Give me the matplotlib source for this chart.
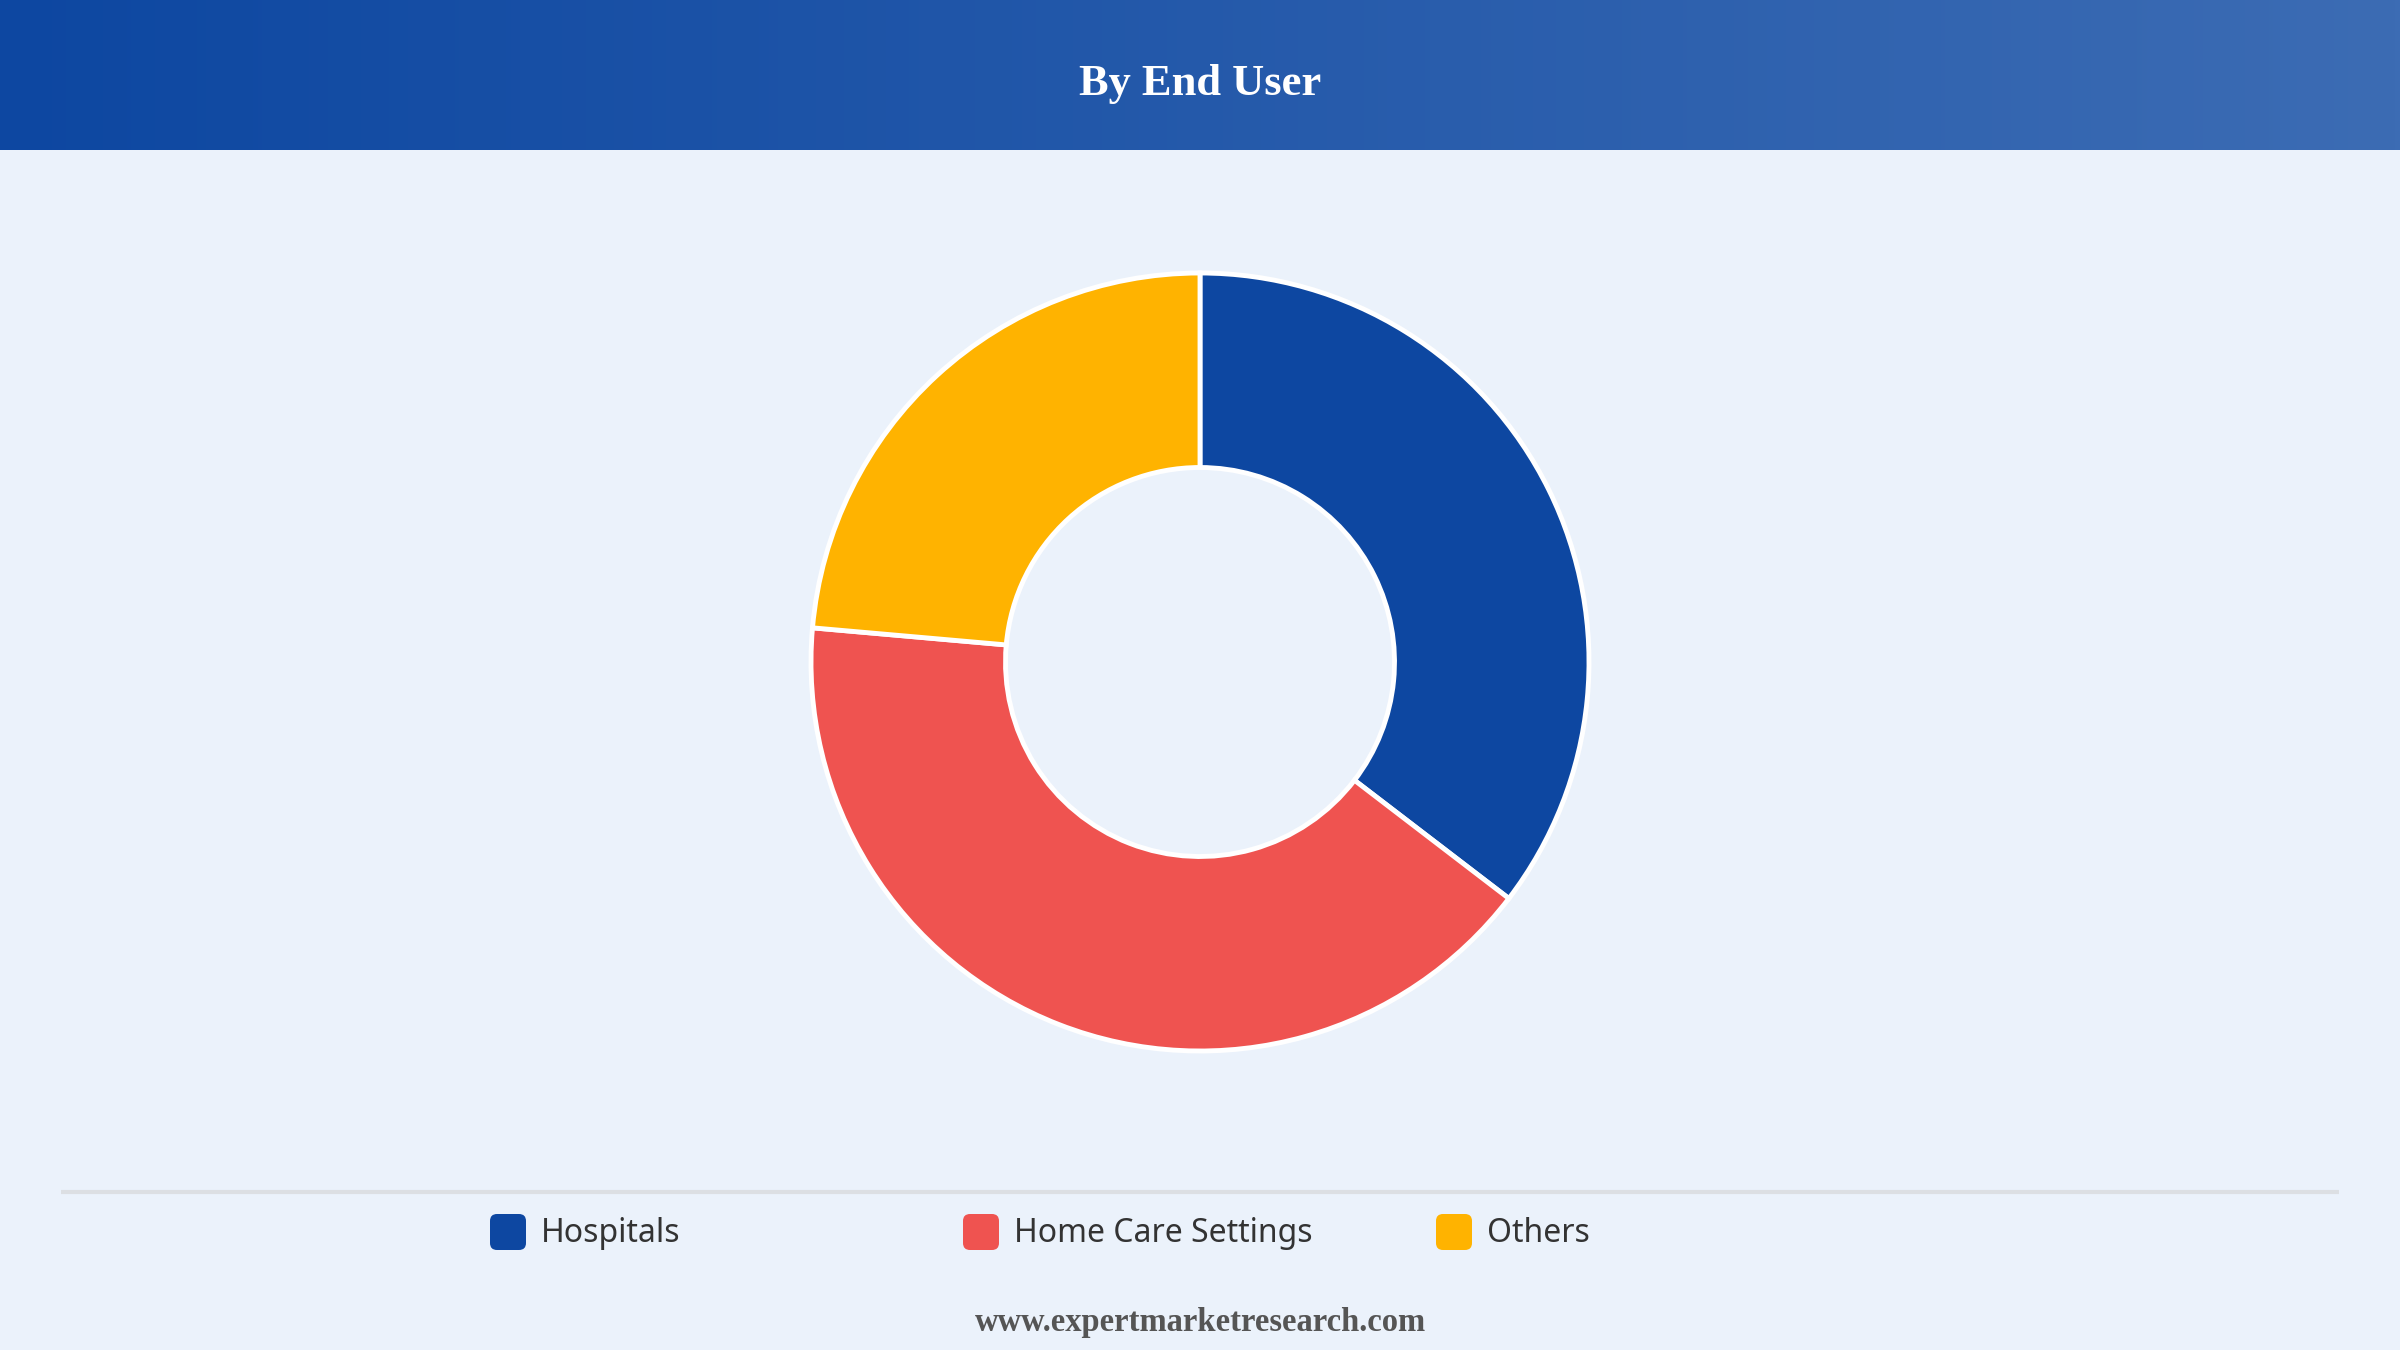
import numpy as np
import matplotlib
matplotlib.use('Agg')
import matplotlib.pyplot as plt
from matplotlib.patches import FancyBboxPatch

# data
labels = ['Hospitals', 'Home Care Settings', 'Others']
shares = [35.4, 41.0, 23.6]
colors = ['#0d47a1', '#ef5350', '#ffb300']
title = 'By End User'
footer = 'www.expertmarketresearch.com'

W, H = 2400, 1350
bg = '#ebf2fb'

fig = plt.figure(figsize=(W / 100, H / 100), dpi=100, facecolor=bg)

# header band with horizontal gradient
head_h = 150
hax = fig.add_axes([0, 1 - head_h / H, 1, head_h / H])
c0 = np.array([13, 71, 161]) / 255
c1 = np.array([60, 108, 180]) / 255
t = np.linspace(0, 1, 512)
grad = (c0[None, :] * (1 - t[:, None]) + c1[None, :] * t[:, None])[None, :, :]
hax.imshow(grad, aspect='auto', extent=[0, 1, 0, 1])
hax.set_xlim(0, 1)
hax.set_ylim(0, 1)
hax.axis('off')
hax.text(0.5, 0.44, title, ha='center', va='center', color='white',
         fontsize=32, fontweight='bold', family='Liberation Serif')

# donut
cx, cy, r = 1200, 662, 389
pax = fig.add_axes([(cx - r) / W, (H - cy - r) / H, 2 * r / W, 2 * r / H])
pax.pie(shares, colors=colors, startangle=90, counterclock=False, radius=1,
        wedgeprops=dict(width=0.5, edgecolor='white', linewidth=3.5))
pax.set_xlim(-1, 1)
pax.set_ylim(-1, 1)
pax.axis('off')

# overlay for legend and footer, in pixel coordinates
oax = fig.add_axes([0, 0, 1, 1], zorder=-1)
oax.set_xlim(0, W)
oax.set_ylim(H, 0)
oax.axis('off')
oax.plot([61, 2339], [1192, 1192], color='#dcdfe3', lw=3, solid_capstyle='butt')

sq = 36
for i, (lab, col) in enumerate(zip(labels, colors)):
    x0 = 490 + i * 473
    box = FancyBboxPatch((x0 + 7, 1232 - sq / 2 + 7), sq - 14, sq - 14,
                         boxstyle='round,pad=7', fc=col, ec='none')
    oax.add_patch(box)
    oax.text(x0 + sq + 15, 1233, lab, ha='left', va='center', fontsize=23,
             color='#333333', family='Noto Sans')

oax.text(1200, 1323, footer, ha='center', va='center', fontsize=23.5,
         fontweight='bold', color='#555555', family='Liberation Serif')

fig.savefig('out.png', dpi=100, facecolor=bg)
